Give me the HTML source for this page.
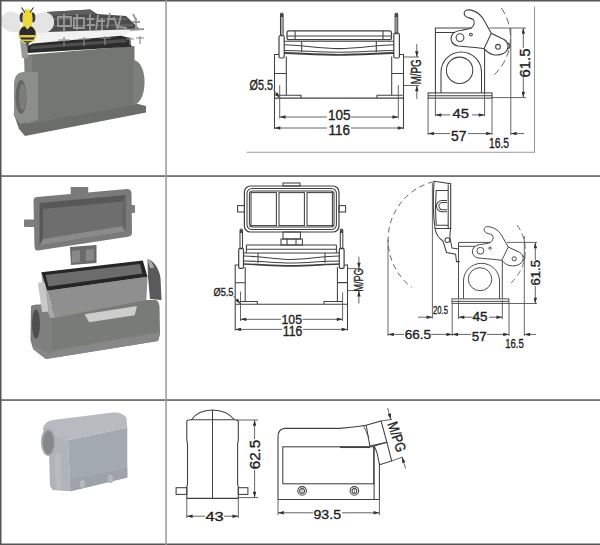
<!DOCTYPE html>
<html><head><meta charset="utf-8">
<style>
html,body{margin:0;padding:0;background:#fff;width:600px;height:545px;overflow:hidden;}
svg{display:block;}
text{font-family:"Liberation Sans",sans-serif;fill:#222;stroke:#222;stroke-width:0.35;}
.d{fill:none;stroke:#404040;stroke-width:1.05;}
.t{fill:none;stroke:#555;stroke-width:0.9;}
.ah{fill:#333;stroke:none;}
</style></head><body>
<svg width="600" height="545" viewBox="0 0 600 545">
<defs>
<marker id="a" viewBox="0 0 10 6" refX="10" refY="3" markerWidth="7" markerHeight="3.5" orient="auto-start-reverse" markerUnits="userSpaceOnUse"><path d="M0,0 L10,3 L0,6 z" fill="#333"/></marker>
</defs>

<!-- ===== PHOTOS ===== -->
<g id="photo1">
<!-- flange -->
<path d="M13.5,113 L19,129 L25,136 L146,112.5 L146,106 L136,103.5 L28,121 Z" fill="#6b6d69"/>
<!-- body front -->
<path d="M25,55 L134.5,46 L134.5,105 L28,124 Z" fill="#747672"/>
<path d="M24,55 L32,56 L33,122 L26,124 Z" fill="#80827e"/>
<!-- left boss -->
<path d="M14,116 L14,84 C14,76 18,72 24,72 L38,72 L38,120 L20,124 Z" fill="#8c8e8a"/>
<ellipse cx="21" cy="97" rx="5.5" ry="17" fill="#666"/>
<ellipse cx="22.5" cy="97" rx="3.5" ry="13" fill="#7c7c7c"/>
<!-- right boss -->
<path d="M133.5,60 C141,61 145,72 144.5,84 C144,96 140,103 133.5,105.5 Z" fill="#7c7e7a"/>
<!-- white band (gap) -->
<path d="M20,31.5 L124,28 L131,31 L124,35.8 L33,43.4 L20,42 Z" fill="#f2f2f2"/>
<!-- gasket -->
<path d="M33,43.4 L121,35.8 L130,38 L131.5,46.7 L28,53 L25,47 Z" fill="#2c2c2c"/>
<path d="M31,46.2 L125,39 L127,42.2 L30,49.3 Z" fill="#4e4e4e"/>
<!-- lid -->
<path d="M47,12 L90,9.5 L97,14 L126,16 L140,29.5 L124,29.5 L47,32 Z" fill="#4c4c4c"/>
<path d="M47,12 L90,9.5 L97,14 L47,16 Z" fill="#5e5e5e"/>
<path d="M49,19 L127,19 M49,26 L133,25" stroke="#777" stroke-width="1.2" fill="none"/>
<!-- left lever -->
<path d="M20,40 L27,40 L28,58 L22,58 Z" fill="#999"/>
<!-- watermark -->
<g stroke="#9a9a9a" stroke-width="1.8" fill="none">
<path d="M64,14 V31 M58,17 H71 V26 H58 Z M77,14 V30 M74,18 H84 V28 H74 Z"/>
<path d="M90,14 V31 M87,19 H94 M87,25 H95 M98,15 L96,31 M97,21 H105 M102,18 V30"/>
<path d="M110,13 L107,28 M107,19 H114 M114,17 L118,30 M121,16 L118,27 L127,28"/>
<path d="M133,14 L136,20 M132,22 H140 M136,18 V29 M130,30 L144,29"/>
</g>
<g stroke="#8a8a8a" stroke-width="1.2" fill="none">
<path d="M58,40 H70 M64,37 V46 M79,39 H90 M84,37 V46 M100,38 H111 M105,36 V45 M126,39 H134 M130,37 V45 M136,38 H144 M140,36 V44"/>
</g>
<!-- bee -->
<g>
<path d="M1,23 C0,15 7,10 14,12 L20,15 L21,31 C15,34 3,32 1,23 Z" fill="#e4e4e4"/>
<path d="M33,16 L40,13 C47,11 54,14 54,21 C55,29 48,34 40,33 L33,31 Z" fill="#e4e4e4"/>
<ellipse cx="27.5" cy="34" rx="9.5" ry="10" fill="#f1e9a0"/>
<ellipse cx="27.5" cy="34" rx="8.2" ry="8.8" fill="#2b2733"/>
<path d="M19.5,35 H35.5 V37.5 H19.5 Z M20.5,39.5 H34.5 V41.2 H20.5 Z" fill="#e0cc3a"/>
<path d="M25.5,42.5 L29.5,42.5 L27.5,48 Z" fill="#555"/>
<ellipse cx="22.3" cy="17.5" rx="2.6" ry="5" fill="#3c3450"/>
<ellipse cx="32.7" cy="17.5" rx="2.6" ry="5" fill="#3c3450"/>
<path d="M24.5,10 C26.5,8.8 28.5,8.8 30.5,10 C33,14 33,22 31.8,25 L27.5,29.5 L23.2,25 C22,22 22,14 24.5,10 Z" fill="#ebd83a"/>
<path d="M21.5,7.5 L25,12.5 M33.5,7.5 L30,12.5" stroke="#333" stroke-width="1.1"/>
</g>
</g>
<g id="photo2">
<!-- base housing -->
<path d="M31,306 C33,304 45,304 48,306 L140,300 L156,300 C158,301 159,303 159.5,306 L160,334 L158,341 L46,359 L33,349 L30.5,340 Z" fill="#797b77"/>
<path d="M33,345 L46,352 L159,332 L159.5,336 L158,341 L46,359 L33,349 Z" fill="#878787"/>
<path d="M48,306 L52,313 L52,356 L46,352 L33,345 L31,306 Z" fill="#7f7f7f"/>
<ellipse cx="36" cy="324" rx="4" ry="14.5" fill="#4e4e4e"/>
<!-- insert housing side + front -->
<path d="M41.3,272.2 L47.2,290.8 L55.3,317.7 L50,318 L44,300 Z" fill="#a8a8a8"/>
<path d="M47.2,290.8 L147.5,276.8 L146.3,300 L55.3,317.7 Z" fill="#8f8f8f"/>
<path d="M84.5,314.2 L137,306 L134.7,315.3 L89.2,322.3 Z" fill="#cdcdcd"/>
<!-- gasket frame -->
<path d="M41.3,272.2 L142.8,260.5 L147.5,276.8 L47.2,290.8 Z" fill="#262626"/>
<path d="M45.5,275 L140,264 L142.5,273.5 L48.5,286.5 Z" fill="#6c6c6c"/>
<!-- levers -->
<path d="M37.8,283 C40,281.5 44,282 45,284 L48.3,311.8 L42,312 Z" fill="#c8c8c8"/>
<path d="M147.5,259.3 C153,260 159,268 160.5,278 L161.5,300 L150,299 L148,277 Z" fill="#5a5a5a"/>
<path d="M147.5,259.3 C151,260 153,264 154,268 L150,268 Z" fill="#aaa"/>
<!-- hinge -->
<path d="M70,247 L96.5,245 L96.5,263 L71,265 Z" fill="#6a6a6a"/>
<path d="M72,251 L80,250 L80,262 L72,263 Z M86,249.5 L94,249 L94,260 L86,261 Z" fill="#888"/>
<!-- lid -->
<rect x="70.7" y="187" width="17.5" height="10" fill="#7a7a7a"/>
<rect x="24" y="219.5" width="10.5" height="7.5" rx="1" fill="#7e7e7e"/>
<rect x="129" y="205" width="6" height="8" rx="1" fill="#7e7e7e"/>
<path d="M37,197 L127,189 C130,189 131.5,191 131.5,193.5 L132,233 C132,235 130.5,236.3 128,236.7 L38,250.5 C35.5,250.8 34.5,249 34.5,246.5 L33.5,201 C33.5,198.5 34.5,197.2 37,197 Z" fill="#7a7a7a"/>
<path d="M39.5,203 L125.5,195 L126,231.5 L39.5,245.5 Z" fill="#585858"/>
<path d="M43,209 L122,201.5 L122,226 L43,239 Z" fill="#6e6e6e"/>
<path d="M39.5,245.5 L126,231.5 L122,226 L43,239 Z" fill="#8a8a8a"/>
<path d="M122,201.5 L125.5,195 L126,231.5 L122,226 Z" fill="#666"/>
</g>
<g id="photo3">
<!-- left side face -->
<path d="M49,452 L67.8,440.1 L70.6,491.3 L52.6,490 L50,486 Z" fill="#b0b4b8"/>
<path d="M55,455 L60,452 L61,489 L56,489 Z" fill="#b9bdc1"/>
<!-- front face -->
<path d="M67.8,440.1 L127.3,427.7 L127.3,477.5 L70.6,491.3 Z" fill="#a2a9af"/>
<path d="M70.3,479.5 L127.3,468.5 L127.3,477.5 L70.6,491.3 Z" fill="#9ca3a9"/>
<!-- top face -->
<path d="M43,430 C43,424 47,421 53,420 L113,412.5 C119,412 124,414 126.5,418 L127.3,427.7 L67.8,440.1 C63,441.5 58,442 54,441.5 Z" fill="#b7bbbf"/>
<path d="M52,436 L67.8,440.1 L70,447 L55,452 Z" fill="#b0b4b8"/>
<!-- tube opening -->
<ellipse cx="48.4" cy="442" rx="7.5" ry="14" fill="#abafb3"/>
<ellipse cx="48.4" cy="442.5" rx="5.6" ry="12" fill="#85898d"/>
<!-- bumps -->
<rect x="80" y="480" width="5" height="8" rx="2" fill="#b4b8bc"/>
<rect x="108" y="475" width="5" height="8" rx="2" fill="#b4b8bc"/>
</g>

<!-- ===== ROW 1 FRONT VIEW ===== -->
<g id="r1front" class="d">
<!-- levers -->
<rect x="280.5" y="13" width="2.6" height="23" rx="1.2"/>
<rect x="395.1" y="13" width="2.6" height="21" rx="1.2"/>
<path d="M280.5,14 H283.1 V17 H280.5 Z M395.1,14 H397.7 V17 H395.1 Z" fill="#444" stroke="none"/>
<path d="M281.8,17 V35 M396.4,17 V33" stroke-width="0.6"/>
<!-- brackets -->
<rect x="279" y="35.5" width="5.2" height="22.5" rx="1.5" stroke-width="1.2"/>
<rect x="393.8" y="33" width="5.6" height="25" rx="1.5" stroke-width="1.2"/>
<!-- lid upper -->
<rect x="287" y="30.9" width="104.5" height="8.8" rx="2" stroke-width="1.2"/>
<path d="M287,36 H391.5 M295.1,30.9 V39.7 M383,30.9 V39.7"/>
<!-- lid lower -->
<path d="M284.2,41.2 H393.8 M301.7,41.2 V52 M376.3,41.2 V52"/>
<path d="M284.2,44.8 C300,45 320,48.6 339,48.6 C358,48.6 378,45 393.8,44.8" stroke-width="1.1"/>
<path d="M284.2,50.5 C300,50.5 320,52.2 339,52.2 C358,52.2 378,50.5 393.8,50.5"/>
<path d="M284.2,53 C300,53.4 320,54.8 339,54.8 C358,54.8 378,53.4 393.8,53" stroke-width="1.8"/>
<!-- body -->
<path d="M279,54.4 H274.5 V129 M399.4,54.4 H403.5 V129"/>
<path d="M286.3,56.6 V95.2 M391.7,56.6 V95.2"/>
<path d="M274.5,73.5 H286.3 M391.7,73.5 H403.5"/>
<path d="M275.3,95.2 H301 V98 M402.7,95.2 H377 V98"/>
<path d="M274.5,98.1 H403.5"/>
<!-- dims -->
<path class="t" d="M279.7,85.2 V118.5 M398.3,85.2 V118.5"/>
<path class="t" d="M279.7,117 H327 M351,117 H398.3" marker-start="url(#a)" marker-end="url(#a)"/>
<path class="t" d="M274.5,128 H327 M351,128 H403.5" marker-start="url(#a)" marker-end="url(#a)"/>
<path class="t" d="M273.5,89.5 L279.7,98" marker-end="url(#a)"/>
<!-- M/PG -->
<path class="t" d="M404,57 H419 M404,85.5 H419"/>
<path class="t" d="M416.8,44 V57" marker-end="url(#a)"/>
<path class="t" d="M416.8,99 V85.5" marker-end="url(#a)"/>
</g>
<g>
<text x="328" y="120.2" font-size="14" textLength="22.5" lengthAdjust="spacingAndGlyphs">105</text>
<text x="328.5" y="134.5" font-size="14" textLength="21.5" lengthAdjust="spacingAndGlyphs">116</text>
<text x="249.5" y="89.6" font-size="15.5" textLength="23.5" lengthAdjust="spacingAndGlyphs">Ø5.5</text>
<text transform="translate(421.2,84.3) rotate(-90)" font-size="14.5" textLength="25" lengthAdjust="spacingAndGlyphs">M/PG</text>
</g>

<!-- ===== ROW 1 SIDE VIEW ===== -->
<g id="r1side" class="d">
<g id="sidecore">
<path d="M471.3,28 H435.4 V92.9 M435.4,32.5 H454.7 M484.6,48.7 V92.9"/>
<path d="M471.3,28 C474,26 475.5,22 473.2,19.5 C471,18 467,18 465.3,16 C463.5,14 463.8,11 466.8,10 C470,9.5 475,11 478.7,13.8 C481.5,16 483.5,19 485,22 L491.3,33.3 L504,39.5 C508.5,42 509.5,47.5 506,51.5 C503,54.8 497,55.5 493.3,54.7 C489,54 486.5,51 484,48.7 C478,47.5 466,46.8 458,46 C452,45 450,40 451.5,36 C453,31.5 458,30.5 462,30.2 C466,29.5 469,29 471.3,28 Z" stroke-width="1.1"/>
<path d="M491.3,33.3 L484,48.7"/>
<circle cx="460" cy="37.6" r="3.9"/>
<circle cx="470.9" cy="34.6" r="1.4"/>
<circle cx="498" cy="46.8" r="2.4"/>
<path d="M507.5,43.5 a2,2 0 0 1 0,5"/>
<path d="M441,92.9 V72.3 A20.25,20.25 0 0 1 481.5,72.3 V92.9"/>
<circle cx="459.6" cy="70.3" r="13.2"/>
<rect x="428.1" y="92.9" width="63.9" height="5.2"/>
<path d="M428.1,95.8 H492"/>
<path class="t" d="M501.3,8 A51.2,51.2 0 0 1 491.6,77" stroke-dasharray="7,4"/>
</g>
<!-- dims -->
<path class="t" d="M435.4,92.9 V116 M484.6,92.9 V116 M428.1,98 V135 M492,98 V135"/>
<path class="t" d="M435.4,114.9 H450 M472,114.9 H484.6" marker-start="url(#a)" marker-end="url(#a)"/>
<path class="t" d="M428.1,133.6 H450 M468,133.6 H492" marker-start="url(#a)" marker-end="url(#a)"/>
<path class="t" d="M524,133.6 H510.8" marker-end="url(#a)"/>
<path class="t" d="M510.8,28 V135 M489.3,28 H526 M492,97.6 H526"/>
<path class="t" d="M523.3,28 V48 M523.3,77 V97.6" marker-start="url(#a)" marker-end="url(#a)"/>
</g>
<g>
<text x="452.6" y="118.4" font-size="13.5" textLength="16.5" lengthAdjust="spacingAndGlyphs">45</text>
<text x="451" y="141.2" font-size="14" textLength="15.5" lengthAdjust="spacingAndGlyphs">57</text>
<text x="489" y="148" font-size="14" textLength="20" lengthAdjust="spacingAndGlyphs">16.5</text>
<text transform="translate(530.3,77.5) rotate(-90)" font-size="15.5" textLength="29" lengthAdjust="spacingAndGlyphs">61.5</text>
</g>
<path d="M246.7,152.2 H534.5 V6.6" fill="none" stroke="#9a9a9a" stroke-width="1.1"/>

<!-- ===== ROW 2 ===== -->
<g id="r2front" class="d">
<!-- open lid -->
<rect x="244.4" y="186" width="94.6" height="46" rx="6" stroke-width="1.2"/>
<rect x="247" y="188.4" width="89.4" height="41.2" rx="5"/>
<rect x="249.4" y="191" width="84.6" height="36" rx="3"/>
<rect x="251" y="192.6" width="25.4" height="33"/>
<rect x="279" y="192.6" width="25.4" height="33"/>
<rect x="307" y="192.6" width="25.4" height="33"/>
<rect x="283" y="183" width="17" height="3"/>
<rect x="237.6" y="205.6" width="6.8" height="6.4"/>
<rect x="339" y="205.6" width="6.6" height="6.4"/>
<!-- hinge -->
<rect x="283" y="232" width="17.4" height="7"/>
<rect x="281" y="239" width="21.4" height="6"/>
<path d="M287,239 V245 M296,239 V245"/>
<!-- levers -->
<rect x="240" y="229" width="2.5" height="20" rx="1.2"/>
<rect x="340.3" y="229" width="2.5" height="20" rx="1.2"/>
<path d="M240,230 H242.5 V233 H240 Z M340.3,230 H342.8 V233 H340.3 Z" fill="#444" stroke="none"/>
<!-- brackets -->
<rect x="238.7" y="248.4" width="4.8" height="20" rx="1.3" stroke-width="1.2"/>
<rect x="339.3" y="248.4" width="4.8" height="20" rx="1.3" stroke-width="1.2"/>
<!-- gasket -->
<path d="M246.4,245 H336.4 M246.4,249.3 H336.4 M243.5,253 H339.3 M246.4,245 V253 M336.4,245 V253"/>
<path d="M243.5,256 C260,256 275,259.5 291.3,259.5 C307.6,259.5 322,256 339.3,256" stroke-width="1.1"/>
<path d="M243.5,261 C260,261 275,263 291.3,263 C307.6,263 322,261 339.3,261"/>
<path d="M243.5,264 C260,264.5 275,265.8 291.3,265.8 C307.6,265.8 322,264.5 339.3,264" stroke-width="1.7"/>
<path d="M258,253 V263 M325,253 V263"/>
<!-- body -->
<path d="M238.7,265 H235.2 V330.5 M344.1,265 H347.5 V330.5"/>
<path d="M245.2,267 V301.8 M337.4,267 V301.8"/>
<path d="M235.2,282.8 H245.2 M337.4,282.6 H347.5"/>
<path d="M239.8,301.5 H257.3 V304.2 M343,301.5 H324 V304.2"/>
<path d="M235.2,304.2 H347.5"/>
<!-- dims -->
<path class="t" d="M240.5,291.5 V321 M342.6,292.5 V321"/>
<path class="t" d="M240.5,319.3 H281 M302.5,319.3 H342.6" marker-start="url(#a)" marker-end="url(#a)"/>
<path class="t" d="M235.2,329.4 H282 M303,329.4 H347.5" marker-start="url(#a)" marker-end="url(#a)"/>
<path class="t" d="M233.5,296 L240.5,304" marker-end="url(#a)"/>
<path class="t" d="M347.5,268.6 H361 M347.5,290.6 H361"/>
<path class="t" d="M358.9,256.7 V268.6" marker-end="url(#a)"/>
<path class="t" d="M358.9,303.5 V290.6" marker-end="url(#a)"/>
</g>
<g>
<text x="281.5" y="323.6" font-size="13" textLength="20.5" lengthAdjust="spacingAndGlyphs">105</text>
<text x="282.8" y="335.7" font-size="14" textLength="19.5" lengthAdjust="spacingAndGlyphs">116</text>
<text x="213.5" y="295.6" font-size="11.5" textLength="20" lengthAdjust="spacingAndGlyphs">Ø5.5</text>
<text transform="translate(362.8,291.6) rotate(-90)" font-size="12.5" textLength="23" lengthAdjust="spacingAndGlyphs">M/PG</text>
</g>
<g id="r2side" class="d">
<use href="#sidecore" transform="translate(458.5,242.4) scale(0.89,0.87) translate(-435.4,-28)"/>
<!-- open lid -->
<path d="M434.1,181.3 L450.7,183.8 V228.5 H435 C433,214 433,196 434.1,181.3 Z" stroke-width="1.1"/>
<path d="M448.2,184.5 V228 M436,190.4 H448.2 M436,225.2 H448.2 M436.2,190.4 C435.2,202 435.2,214 436.2,225.2"/>
<path d="M447,200.5 H442 A5.6,5.6 0 0 0 442,211.7 H447 M447,202.5 H442.5 A3.6,3.6 0 0 0 442.5,209.7 H447"/>
<!-- hinge arm -->
<path d="M435,228.5 C436,234 438,238 443,241 L446.5,252.5 L455.6,254.2 L456.5,261.6 H459.8 M450.7,228.5 C450,233 449.5,236 450,238 L452,248 L458.8,249"/>
<circle cx="447.4" cy="240.1" r="2.4"/>
<path class="t" d="M433.4,181.7 A59.8,59.8 0 0 0 411.8,287.4" stroke-dasharray="5.5,4"/>
<!-- dims -->
<path class="t" d="M432.4,183 V318.5 M388,239.6 V336 M452.2,303 V336 M509,303 V336 M458.5,300 V319 M502.3,300 V319"/>
<path class="t" d="M458.5,317.2 H472.5 M489,317.2 H502.3" marker-start="url(#a)" marker-end="url(#a)"/>
<path class="t" d="M388,334.4 H404 M431,334.4 H452.2" marker-start="url(#a)" marker-end="url(#a)"/>
<path class="t" d="M452.2,334.4 H471 M487,334.4 H509" marker-start="url(#a)" marker-end="url(#a)"/>
<path class="t" d="M536,334.4 H524.3" marker-end="url(#a)"/>
<path class="t" d="M418,317.2 H432.4" marker-end="url(#a)"/>
<path class="t" d="M524.3,236 V336 M506.9,242.4 H537 M509,303.5 H537"/>
<path class="t" d="M535.3,242.4 V260 M535.3,286 V303.5" marker-start="url(#a)" marker-end="url(#a)"/>
</g>
<g>
<text x="472.6" y="321.4" font-size="12.5" textLength="15" lengthAdjust="spacingAndGlyphs">45</text>
<text x="471.8" y="341.2" font-size="13" textLength="15" lengthAdjust="spacingAndGlyphs">57</text>
<text x="404.7" y="339.4" font-size="13.5" textLength="26.3" lengthAdjust="spacingAndGlyphs">66.5</text>
<text x="505.2" y="347.5" font-size="13" textLength="18.6" lengthAdjust="spacingAndGlyphs">16.5</text>
<text x="433" y="314.2" font-size="11.5" textLength="15" lengthAdjust="spacingAndGlyphs">20.5</text>
<text transform="translate(540.3,285.5) rotate(-90)" font-size="13" textLength="25.5" lengthAdjust="spacingAndGlyphs">61.5</text>
</g>

<!-- ===== ROW 3 ===== -->
<g id="r3" class="d">
<!-- left view -->
<path d="M191.3,420 C196,413 204,410.2 212.5,410.1 C221,410.2 229,413 234.6,420"/>
<path d="M186.8,421.5 C186.8,420.5 188.5,419.8 191.3,419.8 H234.6 C236.8,419.8 238.3,420.5 238.3,421.5 V440 L237.6,444 V484 L238.3,487 V498.4 H186.8 V487 L187.5,484 V444 L186.8,440 Z" stroke-width="1.1"/>
<path d="M212.5,410.1 V498.4"/>
<rect x="176.1" y="487.7" width="10.7" height="6.7"/>
<rect x="238.3" y="487.7" width="9.6" height="6.7"/>
<path class="t" d="M186.8,498.4 V518 M238.3,498.4 V518"/>
<path class="t" d="M186.8,516.2 H205 M224,516.2 H238.3" marker-start="url(#a)" marker-end="url(#a)"/>
<path class="t" d="M236,420 H258 M239,497.6 H258"/>
<path class="t" d="M254.6,420 V439 M254.6,470 V497.6" marker-start="url(#a)" marker-end="url(#a)"/>
<!-- right view -->
<path d="M278,499.4 V437 C278,431 280.5,428.6 285,428.4 L340,428.4 C348,427.6 358,426.6 366.2,425.3" stroke-width="1.1"/>
<path d="M366.2,425.3 L381.1,421 L386.9,442.3 L369.9,446 L368.3,437.5 Z"/>
<path d="M363.5,425.8 L368.8,437.5" stroke-width="0.8"/>
<path d="M374.1,446 L386.9,442.3 L391.7,461 L379.5,464.7"/>
<path d="M374.1,446 C375.5,449 377,452 377.5,455 L379.5,464.7"/>
<path d="M379.4,463 V499.4 M374.1,446 V499.4"/>
<rect x="282.8" y="446.8" width="90.9" height="37"/>
<path d="M340,447.3 H370" stroke-width="1.5"/>
<path d="M278,499.4 H379.4"/>
<circle cx="302.1" cy="490.9" r="4.3"/>
<circle cx="302.1" cy="490.9" r="2.4"/>
<circle cx="354.4" cy="490.9" r="4.3"/>
<circle cx="354.4" cy="490.9" r="2.4"/>
<path d="M302.1,488.6 V493.2 M354.4,488.6 V493.2" stroke-width="0.6"/>
<path class="t" d="M278,499.4 V515 M379.4,499.4 V515"/>
<path class="t" d="M278,512.8 H313 M342,512.8 H379.4" marker-start="url(#a)" marker-end="url(#a)"/>
<path class="t" d="M381.1,421 L392,419.4 M391.7,461 L402.5,457"/>
<path class="t" d="M387.6,408 L390.9,419.4" marker-end="url(#a)"/>
<path class="t" d="M405.6,468.5 L402.1,457" marker-end="url(#a)"/>
</g>
<g>
<text x="205.4" y="521.2" font-size="13" textLength="18.3" lengthAdjust="spacingAndGlyphs">43</text>
<text transform="translate(260.4,469.3) rotate(-90)" font-size="15" textLength="29.5" lengthAdjust="spacingAndGlyphs">62.5</text>
<text x="313.5" y="519.4" font-size="13.5" textLength="27.5" lengthAdjust="spacingAndGlyphs">93.5</text>
<text transform="translate(387.2,423.8) rotate(71.5)" font-size="14.5" textLength="31" lengthAdjust="spacingAndGlyphs">M/PG</text>
</g>

<!-- ===== GRID ===== -->
<g fill="#555">
<rect x="0" y="0" width="600" height="1.5"/>
<rect x="0" y="0" width="1.5" height="545"/>
<rect x="0" y="175.3" width="600" height="1.5"/>
<rect x="0" y="399.3" width="600" height="1.5"/>
<rect x="0" y="543.5" width="600" height="1.5"/>
</g>
<rect x="165.3" y="0" width="1.5" height="545" fill="#999"/>
</svg>
</body></html>
